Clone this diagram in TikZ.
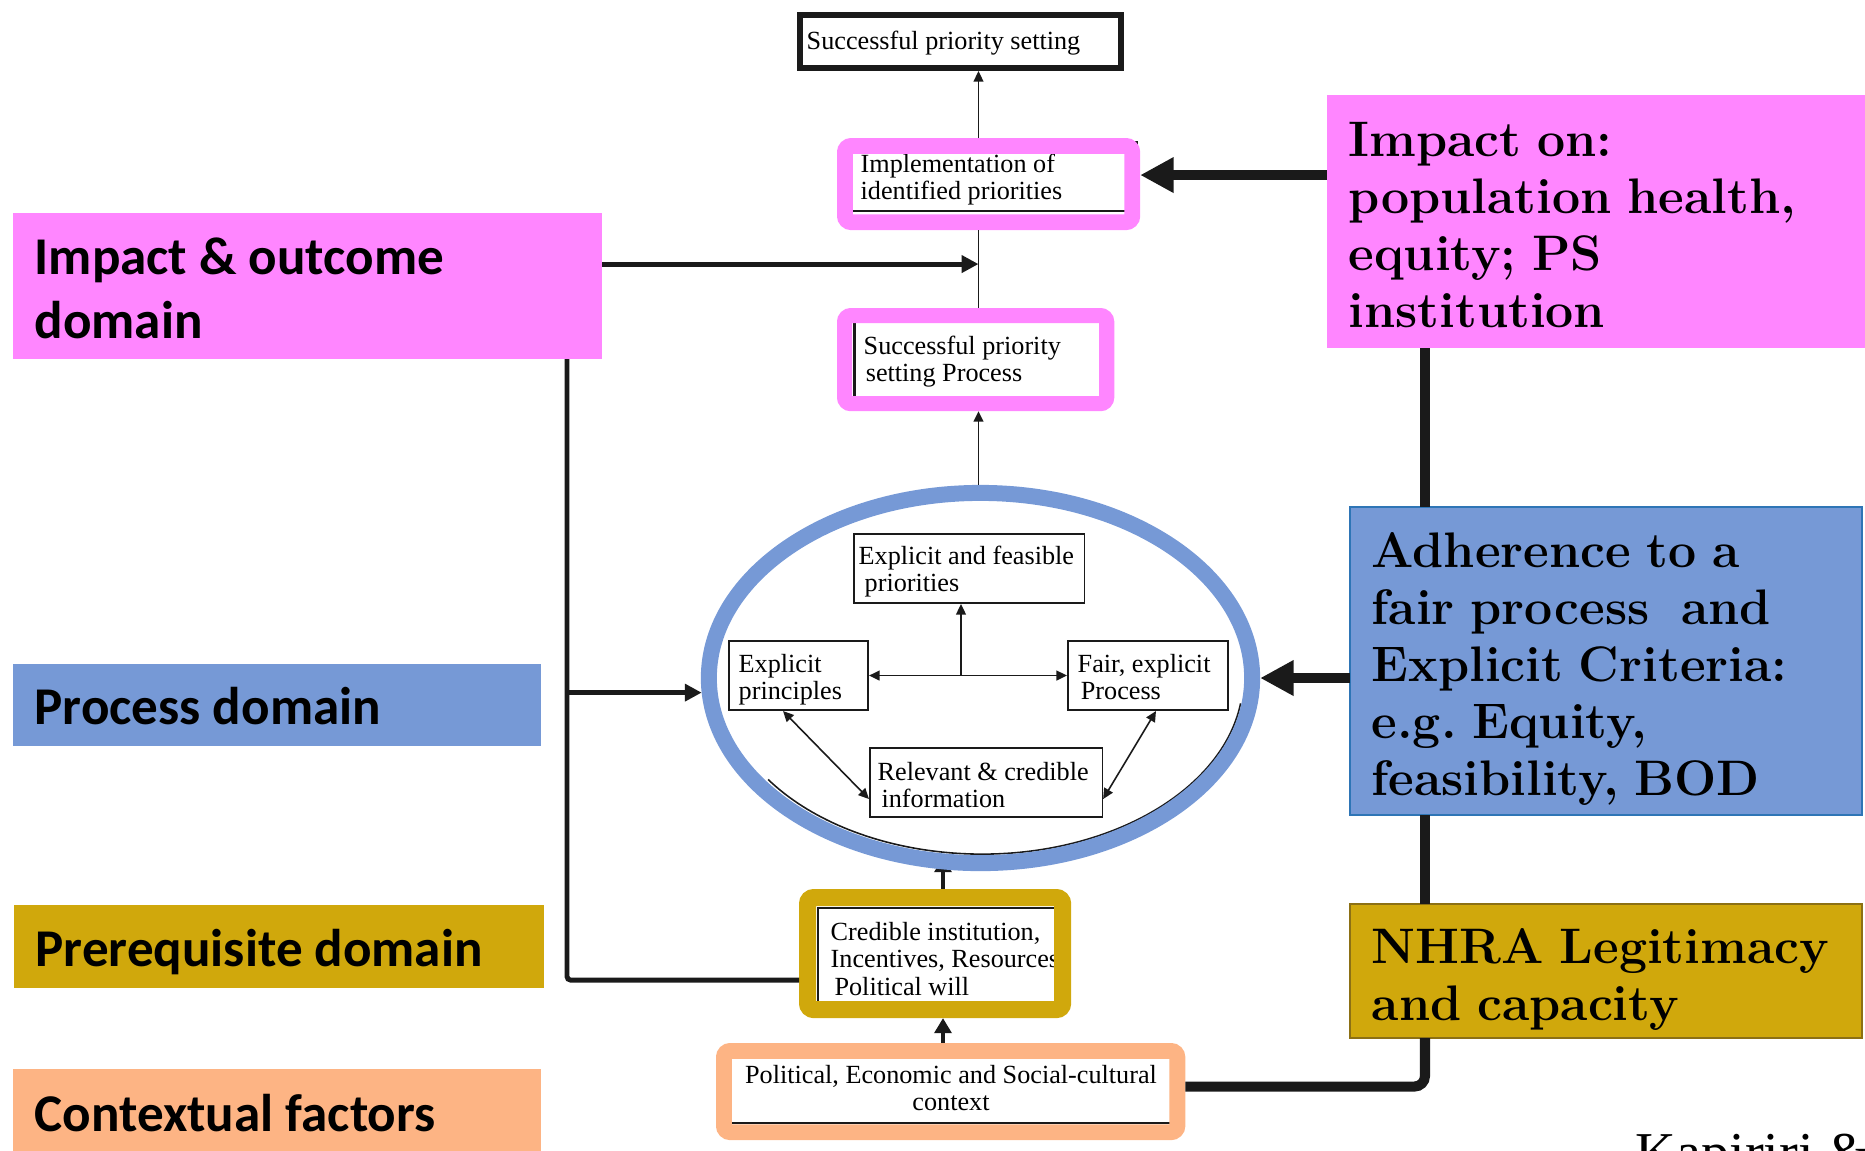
\documentclass[tikz,border=0pt]{standalone}
\usepackage{fontspec}
\newfontfamily\tnr{Liberation Serif}
\newfontfamily\calb{Carlito}
\usetikzlibrary{arrows.meta,shapes.geometric,calc}
\pgfdeclarelayer{bg}
\pgfsetlayers{bg,main}
\frenchspacing
\newcommand\rtspace{\spaceskip=4.5pt plus 1.5pt minus 1.5pt\relax}
\newcommand\rtfont{\bfseries\fontsize{14.2pt}{16.2pt}\selectfont\rtspace}
\definecolor{pinkc}{RGB}{255,134,255}
\definecolor{bluec}{RGB}{118,153,214}
\definecolor{blueborder}{RGB}{46,117,182}
\definecolor{goldc}{RGB}{208,168,12}
\definecolor{goldborder}{RGB}{140,112,20}
\definecolor{peachc}{RGB}{253,180,132}
\definecolor{inkc}{RGB}{26,26,26}
\tikzset{
  thinline/.style={draw=inkc, line width=0.45pt},
  tarrow/.style={thinline, -{Triangle[length=3pt,width=2.8pt]}},
  tdarrow/.style={thinline, {Triangle[length=3pt,width=2.8pt]}-{Triangle[length=3pt,width=2.8pt]}},
  lline/.style={draw=inkc, line width=1.4pt},
  larrow/.style={lline, -{Triangle[length=4.8pt,width=4.8pt]}},
  marrow/.style={lline, -{Triangle[length=4.3pt,width=4.8pt]}},
  rline/.style={draw=inkc, line width=2.85pt},
  rarrow/.style={rline, -{Triangle[length=9.5pt,width=9.5pt]}},
  labelbox/.style={anchor=north west, inner sep=0pt, outer sep=0pt},
  lbl/.style={font=\calb\bfseries\fontsize{15.1pt}{18.2pt}\selectfont, inner sep=0pt, anchor=base west},
  lbltwo/.style={font=\calb\bfseries\fontsize{15.1pt}{18.2pt}\selectfont, inner sep=0pt, anchor=north west, align=left},
  rtxt/.style={font=\rtfont, inner sep=0pt, anchor=north west, align=left},
  ftxt/.style={font=\tnr\fontsize{7.45pt}{7.82pt}\selectfont, inner sep=0pt, anchor=north west, align=left},
  sbox/.style={draw=inkc, line width=0.45pt, fill=white, anchor=north west, inner sep=0pt},
  colframe/.style={anchor=north west, draw=#1, line width=4.5pt, rounded corners=1.8pt, inner sep=0pt},
}
\begin{document}
\begin{tikzpicture}[x=0.01cm,y=-0.01cm]
\useasboundingbox (0,0) rectangle (1865,1150);
\clip (0,0) rectangle (1865,1150);

% ---------- left domain labels
\node[labelbox, fill=pinkc, minimum width=5.89cm, minimum height=1.46cm] (lio) at (13,213) {};
\node[labelbox, fill=bluec, minimum width=5.28cm, minimum height=0.82cm] (lpd) at (13,664) {};
\node[labelbox, fill=goldc, minimum width=5.30cm, minimum height=0.83cm] (lpr) at (14,905) {};
\node[labelbox, fill=peachc, minimum width=5.28cm, minimum height=1.00cm] (lcf) at (13,1069) {};
\node[lbltwo] (lio-t) at (34,229) {\strut Impact \& outcome\\domain};
\node[lbl] (lpd-t) at (34,724) {Process domain};
\node[lbl] (lpr-t) at (35,966) {Prerequisite domain};
\node[lbl] (lcf-t) at (34,1131) {Contextual factors};

% ---------- right boxes
\node[labelbox, fill=pinkc, minimum width=5.48cm, minimum height=2.53cm] (rimp) at (1327,95) {};
\node[labelbox, fill=bluec, draw=blueborder, line width=0.6pt, minimum width=5.12cm, minimum height=3.08cm] (radh) at (1350,507) {};
\node[labelbox, fill=goldc, draw=goldborder, line width=0.6pt, minimum width=5.12cm, minimum height=1.34cm] (rnh) at (1350,904) {};
\node[rtxt] (rimp-t) at (1348,116) {\strut Impact on:\\population health,\\equity; PS\\institution};
\node[rtxt] (radh-t) at (1371,527) {\strut Adherence to a\\fair process\ \ and\\Explicit Criteria:\\e.g. Equity,\\feasibility, BOD};
\node[rtxt] (rnh-t) at (1371,923) {\strut NHRA Legitimacy\\and capacity};

% ---------- top box
\node[anchor=north west, draw=inkc, fill=white, line width=1.71pt, minimum width=3.21cm, minimum height=0.53cm, inner sep=0pt] (topb) at (797,12) {};
\node[ftxt, anchor=base west] (topb-t) at (806,49.5) {Successful priority setting};

% ---------- implementation
\node[sbox, minimum width=2.914cm, minimum height=0.694cm] (impl-b) at (845,141) {};
\node[ftxt] (impl-t) at (860,152.5) {\strut Implementation of\\identified priorities};
\node[colframe=pinkc, minimum width=2.872cm, minimum height=0.762cm] (impl) at (837,138) {};

% ---------- successful PS process
\node[sbox, line width=0.8pt, minimum width=2.492cm, minimum height=0.802cm] (sps-b) at (853,318) {};
\node[ftxt] (sps-t) at (863,334.5) {\strut Successful priority\\\hspace{0.6pt}setting Process};
\node[colframe=pinkc, line width=4.3pt, minimum width=2.62cm, minimum height=0.88cm] (sps) at (837,308) {};

% ---------- ellipse content
\draw[inkc, line width=0.45pt] (982,679) ++(215:2.61cm and 1.75cm) arc[start angle=215, end angle=352, x radius=2.61cm, y radius=1.75cm];
\node[draw=bluec, line width=4.55pt, ellipse, minimum width=5.43cm, minimum height=3.70cm, inner sep=0pt] (ell) at (980.5,678) {};

\node[sbox, minimum width=2.304cm, minimum height=0.694cm] (efp) at (853,533) {};
\node[ftxt] (efp-t) at (858,544.5) {\strut Explicit and feasible\\\hspace{1.7pt}priorities};
\node[sbox, minimum width=1.394cm, minimum height=0.694cm] (ep) at (728,640) {};
\node[ftxt] (ep-t) at (738,652.5) {\strut Explicit\\principles};
\node[sbox, minimum width=1.604cm, minimum height=0.694cm] (fep) at (1067,640) {};
\node[ftxt] (fep-t) at (1077,652.5) {\strut Fair, explicit\\\hspace{0.9pt}Process};
\node[sbox, minimum width=2.324cm, minimum height=0.694cm] (rci) at (869,747) {};
\node[ftxt] (rci-t) at (877,760.5) {\strut Relevant \& credible\\\hspace{1.1pt}information};

% ---------- prerequisites
\node[sbox, minimum width=2.464cm, minimum height=1.014cm] (cred-b) at (817,907) {};
\node[ftxt] (cred-t) at (830,920.5) {\strut Credible institution,\\Incentives, Resources\\\hspace{1.1pt}Political will};
\node[colframe=goldc, line width=4.84pt, minimum width=2.55cm, minimum height=1.12cm] (gold) at (799,889) {};

% ---------- context
\node[sbox, minimum width=4.434cm, minimum height=0.674cm] (ctx-b) at (728,1055) {};
\node[ftxt, anchor=north, align=center] (ctx-t) at (951,1063.5) {\strut Political, Economic and Social-cultural\\context};
\node[colframe=peachc, minimum width=4.532cm, minimum height=0.812cm] (ctx) at (716,1043) {};

% ---------- helper coordinates
\coordinate (tl) at (978.5,0);
\coordinate (vl) at (567,0);
\coordinate (vr) at (1425,0);
\coordinate (gx) at (943,0);
\coordinate (hmx) at (961,0);

% ---------- thin connectors
\draw[tarrow] (impl.north -| tl) -- (topb.south -| tl);
\draw[thinline] (impl.south -| tl) -- (sps.north -| tl);
\draw[tarrow] (ell.north -| tl) -- (sps.south -| tl);
\draw[tdarrow] (ep.east) -- (fep.west);
\coordinate (hm) at (ep.east -| hmx);
\draw[tarrow] (hm) -- (efp.south -| hm);
\draw[tdarrow] ($(ep.south west)+(55,0)$) -- ($(rci.south west)+(0,-19)$);
\draw[tdarrow] ($(fep.south west)+(89,0)$) -- ($(rci.south east)+(0,-19)$);

% ---------- left thick connectors
\coordinate (lioa) at ($(lio.east)+(0,-22)$);
\draw[larrow] (lioa) -- (lioa -| tl);
\coordinate (goldl) at ($(gold.west)+(0,26.5)$);
\draw[lline, rounded corners=1pt] (lio.south -| vl) -- (vl |- goldl) -- (goldl);
\draw[larrow] (vl |- ell.183) -- (ell.183);

% ---------- prerequisite / context arrows
\draw[marrow] (ctx.north -| gx) -- (gold.south -| gx);
\begin{pgfonlayer}{bg}
\draw[marrow] (gold.north -| gx) -- ($(ell.south -| gx)+(0,-14)$);
\end{pgfonlayer}

% ---------- right thick connectors
\coordinate (impla) at ($(impl.east)+(0,-9)$);
\draw[rarrow] (rimp.west |- impla) -- (impla);
\draw[rarrow] (radh.west |- ell.east) -- (ell.east);
\draw[rline] (rimp.south -| vr) -- (radh.north -| vr);
\draw[rline] (radh.south -| vr) -- (rnh.north -| vr);
\coordinate (ctxr) at ($(ctx.east)+(0,-5)$);
\draw[rline, rounded corners=3pt] (rnh.south -| vr) -- (vr |- ctxr) -- (ctxr);

% ---------- citation (cut at the page edge, as in the reference)
\node[font=\tnr\fontsize{16pt}{19pt}\selectfont, anchor=base west, inner sep=0pt] (cite) at (1635,1171) {Kapiriri \&};
\end{tikzpicture}
\end{document}
